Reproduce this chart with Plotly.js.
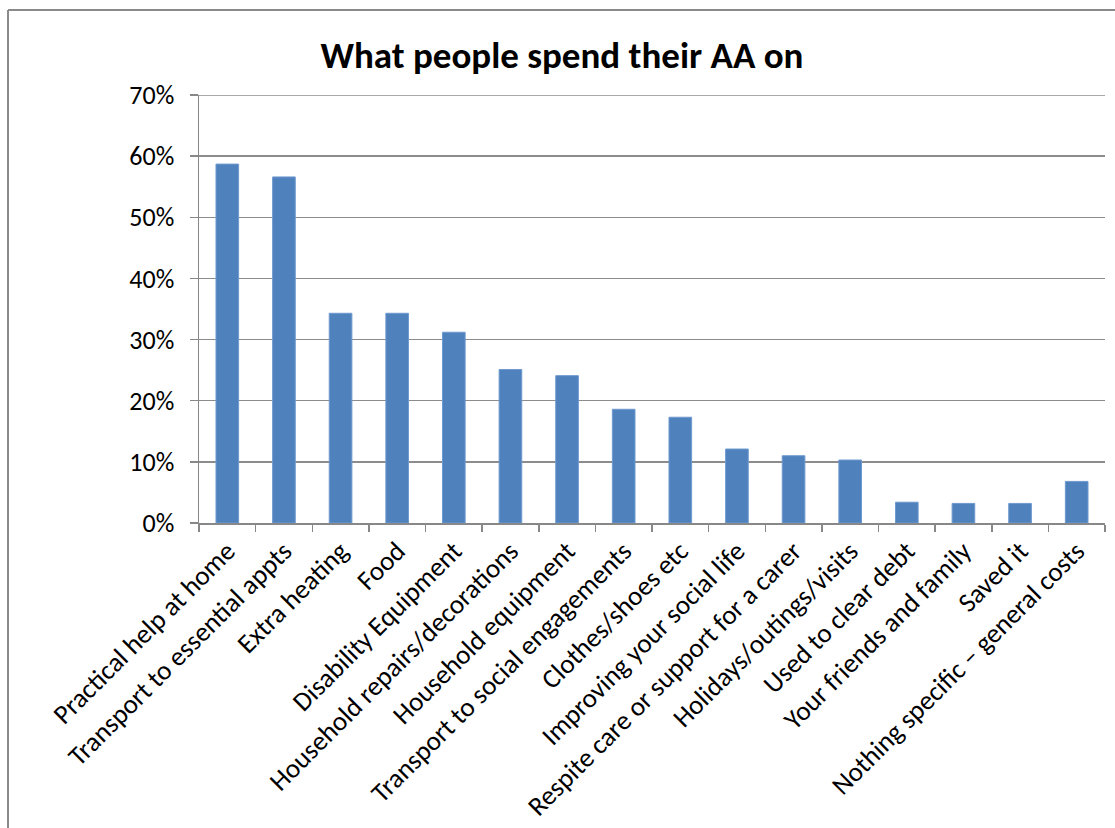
<!DOCTYPE html>
<html>
<head>
<meta charset="utf-8">
<script src="https://cdn.plot.ly/plotly-3.0.1.min.js"></script>
<style>html,body{margin:0;padding:0;background:#fff;}#chart{width:1115px;height:828px;}</style>
</head>
<body>
<div id="chart"></div>
<script>
const categories = [
  "Practical help at home",
  "Transport to essential appts",
  "Extra heating",
  "Food",
  "Disability Equipment",
  "Household repairs/decorations",
  "Household equipment",
  "Transport to social engagements",
  "Clothes/shoes etc",
  "Improving your social life",
  "Respite care or support for a carer",
  "Holidays/outings/visits",
  "Used to clear debt",
  "Your friends and family",
  "Saved it",
  "Nothing specific \u2013 general costs"
];
const shares = [0.587, 0.566, 0.343, 0.343, 0.312, 0.251, 0.241, 0.186, 0.173, 0.121, 0.110, 0.103, 0.034, 0.032, 0.032, 0.068];
const yTickVals = [0, 0.1, 0.2, 0.3, 0.4, 0.5, 0.6, 0.7];
const yTickText = ["0%", "10%", "20%", "30%", "40%", "50%", "60%", "70%"];
const chartTitle = "What people spend their AA on";
const yMax = 0.7;

const font = "Calibri, Carlito, Lato, 'Open Sans', sans-serif";

const trace = {
  type: "bar",
  x: categories,
  y: shares,
  marker: {color: "#4F81BD", line: {color: "#6F9AD0", width: 1}},
  hoverinfo: "x+y"
};

const layout = {
  width: 1115,
  height: 828,
  margin: {l: 199, r: 10, t: 95, b: 305},
  paper_bgcolor: "#ffffff",
  plot_bgcolor: "#ffffff",
  showlegend: false,
  bargap: 0.6,
  font: {family: font, color: "#000000", size: 26},
  title: {
    text: "<b>" + chartTitle + "</b>",
    font: {family: font, size: 37, color: "#000000"},
    xref: "container", x: 0.504, xanchor: "center",
    yref: "container", y: 0.934, yanchor: "middle"
  },
  xaxis: {
    type: "category",
    tickangle: -45,
    tickson: "boundaries",
    ticks: "outside",
    ticklen: 7,
    tickcolor: "#888888",
    tickwidth: 1.5,
    showline: true,
    linecolor: "#888888",
    linewidth: 1.5,
    showgrid: false,
    tickfont: {family: font, size: 27, color: "#000000"},
    automargin: false
  },
  yaxis: {
    range: [0, yMax],
    tickvals: yTickVals,
    ticktext: yTickText,
    ticks: "outside",
    ticklen: 8,
    tickcolor: "#888888",
    tickwidth: 1.5,
    ticklabelstandoff: 10,
    showline: true,
    linecolor: "#888888",
    linewidth: 1.5,
    showgrid: true,
    gridcolor: "#8c8c8c",
    gridwidth: 1.5,
    zeroline: false,
    tickfont: {family: font, size: 26, color: "#000000"},
    automargin: false
  },
  shapes: [
    {type: "line", xref: "paper", yref: "y", x0: 0, x1: 1, y0: yMax, y1: yMax, line: {color: "#8c8c8c", width: 1.5}},
    {type: "line", xref: "paper", yref: "paper", x0: -0.2108, x1: -0.2108, y0: 1.1986, y1: -1.0, line: {color: "#8a8a8a", width: 2}},
    {type: "line", xref: "paper", yref: "paper", x0: -0.2108, x1: 1.02, y0: 1.1986, y1: 1.1986, line: {color: "#8a8a8a", width: 2}}
  ]
};

Plotly.newPlot("chart", [trace], layout, {displayModeBar: false, staticPlot: true});
</script>
</body>
</html>
